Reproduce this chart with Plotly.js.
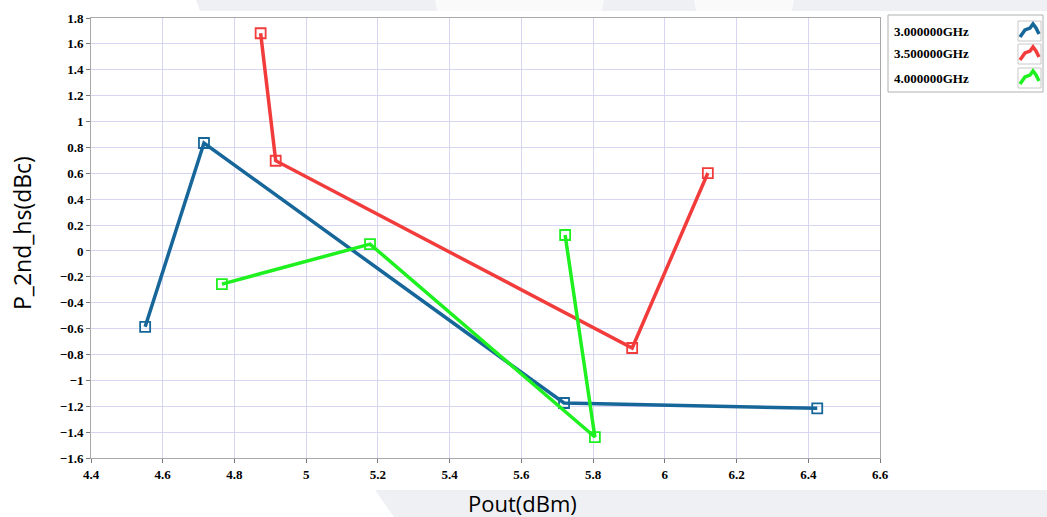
<!DOCTYPE html>
<html>
<head>
<meta charset="utf-8">
<script src="https://cdn.plot.ly/plotly-3.0.1.min.js"></script>
<style>html,body{margin:0;padding:0;background:#fff;}#chart{width:1047px;height:517px;}</style>
</head>
<body>
<div id="chart"></div>
<script>
// Data
const seriesNames = ["3.000000GHz", "3.500000GHz", "4.000000GHz"];
const pout_3G = [4.551, 4.715, 5.719, 6.425];
const p2nd_3G = [-0.586, 0.834, -1.175, -1.216];
const pout_35G = [4.873, 4.915, 5.909, 6.120];
const p2nd_35G = [1.682, 0.697, -0.750, 0.602];
const pout_4G = [4.765, 5.178, 5.805, 5.722];
const p2nd_4G = [-0.256, 0.053, -1.438, 0.123];
const colors = ["#176699", "#f23c3c", "#1ff01f"];
const xTitle = "Pout(dBm)";
const yTitle = "P_2nd_hs(dBc)";

const xs = [pout_3G, pout_35G, pout_4G];
const ys = [p2nd_3G, p2nd_35G, p2nd_4G];

const traces = xs.map((x, i) => ({
  x: x, y: ys[i], name: seriesNames[i], type: "scatter", mode: "lines+markers",
  line: {color: colors[i], width: 3.5},
  marker: {symbol: "square-open", size: 10, color: colors[i], line: {width: 1.8, color: colors[i]}},
  showlegend: false
}));

// plot area in pixels: left 91, right 880, top 18, bottom 458
const L = 91, R = 880, T = 18, B = 458;
const px = v => (v - L) / (R - L);
const py = v => (B - v) / (B - T);

const shapes = [];
const annotations = [];
// decorative background bands
shapes.push({type: "path", xref: "paper", yref: "paper", layer: "below",
  path: `M ${px(375)} ${py(490)} L ${px(1047)} ${py(490)} L ${px(1047)} ${py(517)} L ${px(394)} ${py(517)} Z`,
  fillcolor: "#eff0f4", line: {width: 0}});
shapes.push({type: "path", xref: "paper", yref: "paper", layer: "below",
  path: `M ${px(196)} ${py(0)} L ${px(1047)} ${py(0)} L ${px(1047)} ${py(11)} L ${px(200)} ${py(11)} Z`,
  fillcolor: "#eff0f4", line: {width: 0}});
shapes.push({type: "path", xref: "paper", yref: "paper", layer: "below",
  path: `M ${px(435)} ${py(0)} L ${px(604)} ${py(0)} L ${px(602)} ${py(11)} L ${px(437)} ${py(11)} Z`,
  fillcolor: "#fafafb", line: {width: 0}});
shapes.push({type: "path", xref: "paper", yref: "paper", layer: "below",
  path: `M ${px(694)} ${py(0)} L ${px(794)} ${py(0)} L ${px(792)} ${py(11)} L ${px(696)} ${py(11)} Z`,
  fillcolor: "#fafafb", line: {width: 0}});

// custom legend box
shapes.push({type: "rect", xref: "paper", yref: "paper",
  x0: px(888), x1: px(1043), y0: py(92), y1: py(15),
  line: {color: "#b0b0b0", width: 1}, fillcolor: "#ffffff"});
const rowsY = [31, 54, 78];
seriesNames.forEach((n, i) => {
  const cy = rowsY[i];
  annotations.push({xref: "paper", yref: "paper", x: px(892), y: py(cy), xanchor: "left", yanchor: "middle",
    text: n, showarrow: false, font: {family: "Liberation Serif", size: 13, color: "#000", weight: "bold"}});
  shapes.push({type: "rect", xref: "paper", yref: "paper",
    x0: px(1018), x1: px(1041), y0: py(cy + 10), y1: py(cy - 10),
    line: {color: "#c8c8c8", width: 1}, fillcolor: "#ffffff"});
  shapes.push({type: "path", xref: "paper", yref: "paper",
    path: `M ${px(1020)} ${py(cy + 6)} L ${px(1025)} ${py(cy - 1)} L ${px(1030)} ${py(cy - 3)} L ${px(1033)} ${py(cy - 7)} L ${px(1036)} ${py(cy - 3)} L ${px(1039)} ${py(cy + 3)}`,
    line: {color: colors[i], width: 3.5}});
});

annotations.push({xref: "paper", yref: "paper", x: px(522), y: py(503), xanchor: "center", yanchor: "middle",
  text: xTitle, showarrow: false, font: {family: "Open Sans", size: 22, color: "#000"}});
annotations.push({xref: "paper", yref: "paper", x: px(22), y: py(233), xanchor: "center", yanchor: "middle",
  textangle: -90, text: yTitle, showarrow: false, font: {family: "Open Sans", size: 23, color: "#000"}});

const tickFont = {family: "Liberation Serif", size: 13, color: "#000", weight: "bold"};
const layout = {
  width: 1047, height: 517,
  margin: {l: L, r: 1047 - R, t: T, b: 517 - B},
  paper_bgcolor: "#ffffff", plot_bgcolor: "#ffffff",
  showlegend: false,
  xaxis: {range: [4.4, 6.6], dtick: 0.2, tick0: 4.4, showgrid: true, gridcolor: "#d6d6f2", gridwidth: 1,
    zeroline: false, showline: true, mirror: true, linecolor: "#a8a8a8", linewidth: 1,
    ticks: "outside", ticklen: 4, tickcolor: "#777", tickfont: tickFont},
  yaxis: {range: [-1.6, 1.8], dtick: 0.2, tick0: -1.6, showgrid: true, gridcolor: "#d6d6f2", gridwidth: 1,
    zeroline: false, showline: true, mirror: true, linecolor: "#a8a8a8", linewidth: 1,
    ticks: "outside", ticklen: 4, tickcolor: "#777", tickfont: tickFont},
  shapes: shapes,
  annotations: annotations
};

Plotly.newPlot("chart", traces, layout, {displayModeBar: false, staticPlot: true});
</script>
</body>
</html>
